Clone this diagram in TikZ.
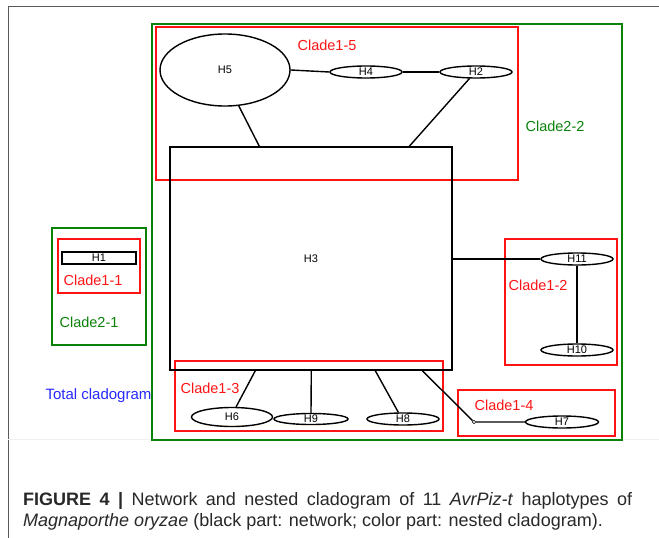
\documentclass[tikz,border=0pt]{standalone}
\usepackage{fontspec}
\setmainfont{Liberation Sans}
\usetikzlibrary{shapes.geometric,calc}
\definecolor{cred}{RGB}{255,20,20}
\definecolor{cgreen}{RGB}{10,130,10}
\definecolor{cblue}{RGB}{40,40,255}
\definecolor{frame}{RGB}{90,90,90}
\definecolor{captxt}{RGB}{40,40,40}
\tikzset{
  net/.style={draw=black,line width=1.4pt},
  hap/.style={ellipse,draw=black,line width=1.4pt,inner sep=0pt,font=\fontsize{11}{11}\selectfont},
  redbox/.style={draw=cred,line width=1.5pt},
  greenbox/.style={draw=cgreen,line width=1.5pt},
  redlab/.style={text=cred,font=\fontsize{14.5}{14.5}\selectfont,inner sep=0pt},
  greenlab/.style={text=cgreen,font=\fontsize{14.5}{14.5}\selectfont,inner sep=0pt},
  caption/.style={anchor=base west,inner sep=0pt,text=captxt,font=\fontsize{18}{18}\selectfont}
}
\begin{document}
\begin{tikzpicture}[x=1pt,y=-1pt]
\useasboundingbox (0,0) rectangle (659,538);
\fill[white] (0,0) rectangle (659,538);
% page frame
\draw[frame,line width=1pt] (8,538) -- (8,6) -- (659,6);
\draw[black!6,line width=0.8pt] (8,439) -- (659,439);
% nested cladogram boxes
\draw[greenbox] (152,24) rectangle (622,440);
\draw[greenbox] (52,228) rectangle (146,345);
\draw[redbox] (156,27) rectangle (518,180);
\draw[redbox] (58,239) rectangle (140,293);
\draw[redbox] (505,239) rectangle (617,365);
\draw[redbox] (175,361) rectangle (443,431);
\draw[redbox] (458,390) rectangle (615,436);
% network
\node[draw=black,line width=1.4pt,minimum width=282pt,minimum height=223pt,inner sep=0pt,font=\fontsize{11}{11}\selectfont] (H3) at (311,258.5) {H3};
\node[hap,minimum width=130pt,minimum height=72pt] (H5) at (225,70) {H5};
\node[hap,minimum width=72pt,minimum height=12pt] (H4) at (366,72) {H4};
\node[hap,minimum width=72pt,minimum height=12pt] (H2) at (476,72) {H2};
\node[hap,minimum width=72pt,minimum height=12pt] (H11) at (577,259) {H11};
\node[hap,minimum width=72pt,minimum height=12pt] (H10) at (577,350) {H10};
\node[hap,minimum width=81pt,minimum height=19pt] (H6) at (232,417) {H6};
\node[hap,minimum width=74pt,minimum height=11pt] (H9) at (311,419) {H9};
\node[hap,minimum width=72pt,minimum height=12pt] (H8) at (403,419) {H8};
\node[hap,minimum width=73pt,minimum height=12pt] (H7) at (562,422) {H7};
\node[draw=black,line width=1.4pt,minimum width=74pt,minimum height=12pt,inner sep=0pt,font=\fontsize{11}{11}\selectfont] (H1) at (99,258) {H1};
\node[circle,draw=black,fill=white,line width=0.6pt,minimum size=3.5pt,inner sep=0pt] (j) at (474,422) {};
\draw[net] (H5.east) -- (H4.west);
\draw[net] (H4.east) -- (H2.west);
\draw[net] (H5.-69) -- ($(H3.north west)+(90,0)$);
\draw[net] (H2.-135) -- ($(H3.north west)+(240,0)$);
\draw[net] (H3.east |- H11.west) -- (H11.west);
\draw[net] (H11.south) -- (H10.north);
\draw[net] ($(H3.south west)+(86,0)$) -- (H6.68);
\draw[net] ($(H3.south west)+(142,0)$) -- (H9.north);
\draw[net] ($(H3.south west)+(206,0)$) -- (H8.125);
\draw[net] ($(H3.south west)+(253,0)$) -- (j) -- (H7.west);
% labels
\node[redlab] (l15) at (327,45) {Clade1-5};
\node[greenlab] (l22) at (555,126) {Clade2-2};
\node[redlab] (l12) at (538,285) {Clade1-2};
\node[redlab] (l14) at (504,405) {Clade1-4};
\node[redlab] (l13) at (210,388) {Clade1-3};
\node[redlab] (l11) at (93,280) {Clade1-1};
\node[greenlab] (l21) at (89,322) {Clade2-1};
\node[text=cblue,font=\fontsize{15}{15}\selectfont,inner sep=0pt] (tot) at (98.5,396) {Total cladogram};
% caption
\node[caption] (c1) at (23,505) {\makebox[609pt][s]{\textbf{FIGURE 4 |} Network and nested cladogram of 11 \textit{AvrPiz-t} haplotypes of}};
\node[caption] (c2) at (23,526) {\textit{Magnaporthe oryzae} (black part: network; color part: nested cladogram).};
\end{tikzpicture}
\end{document}
